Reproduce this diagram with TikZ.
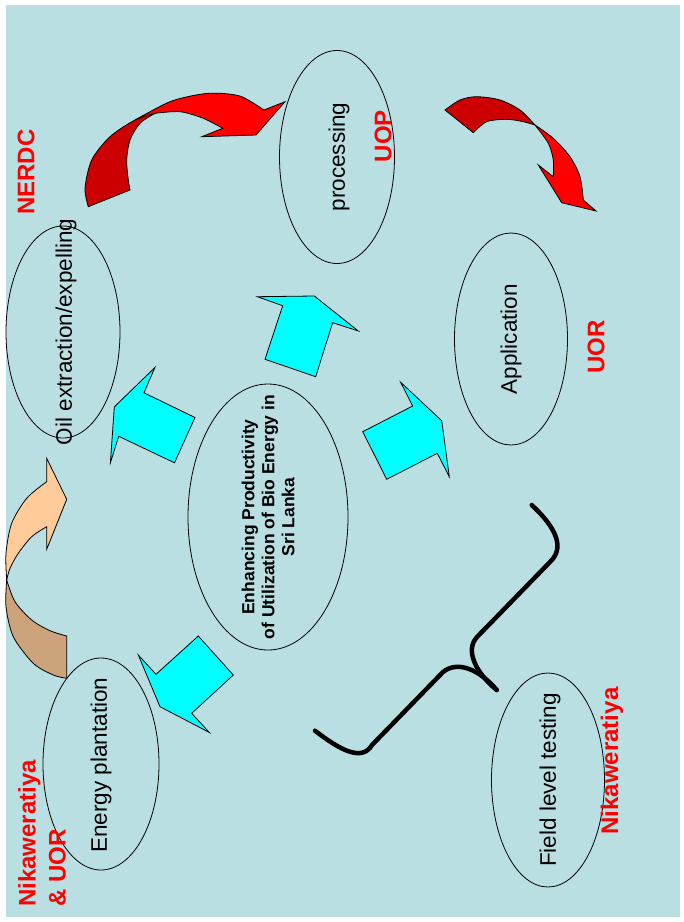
\documentclass[tikz,border=0pt]{standalone}
\usepackage{fontspec}
\setmainfont{Liberation Sans}
\usetikzlibrary{shapes.geometric}

\definecolor{slidebg}{RGB}{186,223,227}
\definecolor{darkred}{RGB}{204,0,0}
\definecolor{peach}{RGB}{255,204,153}
\definecolor{peachdark}{RGB}{204,163,122}
\definecolor{aqua}{RGB}{0,255,255}

\tikzset{
  blob/.style={draw, ellipse, line width=0.8pt, rotate=90, inner sep=0pt},
  caption/.style={rotate=90, inner sep=0pt, font=\fontsize{22.5}{26}\selectfont},
  tag/.style={rotate=90, inner sep=0pt, text=red, font=\fontsize{24}{30}\selectfont\bfseries},
  push/.style={fill=aqua, draw=black, line width=0.8pt, line join=miter},
  twist/.style={draw=black, line width=0.8pt, line join=miter},
  brace/.style={draw=black, line width=4.5pt, line cap=round, line join=round},
}

\begin{document}
\begin{tikzpicture}[x=1pt,y=-1pt]
        \useasboundingbox (0,0) rectangle (684,922);
        \fill[slidebg] (6,5) rectangle (680,917);

        %Curved Arrow: oil -> processing
        \filldraw[twist, fill=red] plot[smooth] coordinates {(135,120) (170,101.7) (200,94.3) (220,93.3) (241.7,96.7) (264,110)} -- (285,101.7) -- (256,135) -- (201.7,136.7) -- (222.7,128.3) -- plot[smooth] coordinates {(222.7,128.3) (203.3,118.3) (180,111.7) (155,113.3)} -- cycle;
        \filldraw[twist, fill=darkred] plot[smooth] coordinates {(88.3,206.7) (85,188.3) (91.7,160) (110,136.7) (135,120) (155,113.3)} -- plot[smooth] coordinates {(155,113.3) (140,123.3) (130,140) (126.7,160) (128.3,180) (130,190)} -- cycle;
        %Curved Arrow: processing -> application
        \filldraw[twist, fill=darkred] plot[smooth] coordinates {(445,110) (460,100) (476.7,96.7) (500,100) (520,110) (535,125)} -- plot[smooth] coordinates {(535,125) (523.3,121.7) (506.7,119.3) (486.7,121.7) (473.3,132.7)} -- cycle;
        \filldraw[twist, fill=red] plot[smooth] coordinates {(535,125) (553.3,138.3) (570,156.7) (580,176.7) (583.3,200)} -- (596,211) -- (561.7,202.7) -- (538.3,165) -- (553.3,176.7) -- plot[smooth] coordinates {(553.3,176.7) (553.3,160) (548.3,143.3) (535,125)} -- cycle;
        %Curved Arrow: plantation -> oil
        \filldraw[twist, fill=peachdark] (66.7,636) -- (66.7,678.3) -- plot[smooth] coordinates {(66.7,678.3) (53.3,675) (33.3,663.3) (13.3,636.7) (6,606.7) (6.7,580)} -- plot[smooth] coordinates {(6.7,580) (15,601.7) (31.7,620) (50,630.7) (66.7,636)} -- cycle;
        \filldraw[twist, fill=peach] plot[smooth] coordinates {(6.7,580) (6,553.3) (11.7,523.3) (26.7,498.3) (46.7,481.7)} -- (46.7,458.3) -- (66.7,499.3) -- (46.7,549.3) -- (46.7,526.7) -- plot[smooth] coordinates {(46.7,526.7) (31.7,536.7) (18.3,553.3) (10,568.3) (6.7,580)} -- cycle;

        %Block Arrows out of the hub
        \filldraw[push] (154.9,367.5) -- (144,392.8) -- (195,417.5) -- (174.5,462.8) -- (118.7,436.3) -- (110.4,462.8) -- (114.3,406.9) -- cycle;
        \filldraw[push] (257.3,296.7) -- (282.7,305.7) -- (265,359.3) -- (315.7,376.7) -- (332.7,322.7) -- (358.3,331) -- (314.3,296) -- cycle;
        \filldraw[push] (400.7,382.3) -- (412.7,406) -- (362.7,431.7) -- (386.7,479.3) -- (437.3,453.3) -- (449.3,476.7) -- (441.7,420.7) -- cycle;
        \filldraw[push] (138.3,655) -- (156,674.3) -- (198.3,636) -- (233.3,675) -- (191.7,713.3) -- (209.4,732.5) -- (160,706.7) -- cycle;

        %Shape: Ellipses
        \node[blob, minimum width=212pt, minimum height=114pt] (oil) at (63,332) {};
        \node[blob, minimum width=213pt, minimum height=115pt] (proc) at (337,157) {};
        \node[blob, minimum width=212pt, minimum height=113pt] (app) at (511,339) {};
        \node[blob, minimum width=266pt, minimum height=160pt] (hub) at (268,517) {};
        \node[blob, minimum width=212pt, minimum height=116pt] (plant) at (101,764) {};
        \node[blob, minimum width=214pt, minimum height=113pt] (field) at (548,780) {};

        %Brace
        \draw[brace] (531.7,505) .. controls (550,522) and (568,545) .. (550,562) -- (477,637) .. controls (465,650) and (475,672) .. (496.7,690);
        \draw[brace] (315,730.7) .. controls (340,750) and (362,762) .. (372,745) -- (443,672) .. controls (458,660) and (480,670) .. (496.7,690);

        % Text Node
        \node[caption] (oiltext) at (66,332) {Oil extraction/expelling};
        % Text Node
        \node[caption] (proctext) at (339,157) {processing};
        % Text Node
        \node[caption] (apptext) at (511,339) {Application};
        % Text Node
        \node[caption] (planttext) at (101,765) {Energy plantation};
        % Text Node
        \node[caption] (fieldtext) at (550,780) {Field level testing};
        % Text Node
        \node[caption, align=center, font=\fontsize{17.5}{20}\selectfont\bfseries] (hubtext) at (268,517) {Enhancing Productivity\\of Utilization of Bio Energy in\\Sri Lanka};

        % Text Node
        \node[tag] (nerdc) at (26,172) {NERDC};
        % Text Node
        \node[tag] (uop) at (383,136) {UOP};
        % Text Node
        \node[tag] (uor) at (596,347) {UOR};
        % Text Node
        \node[tag] (nika) at (612,761) {Nikaweratiya};
        % Text Node
        \node[tag, anchor=west, align=left] (nikauor) at (42,907) {Nikaweratiya\\\& UOR};

\end{tikzpicture}
\end{document}
